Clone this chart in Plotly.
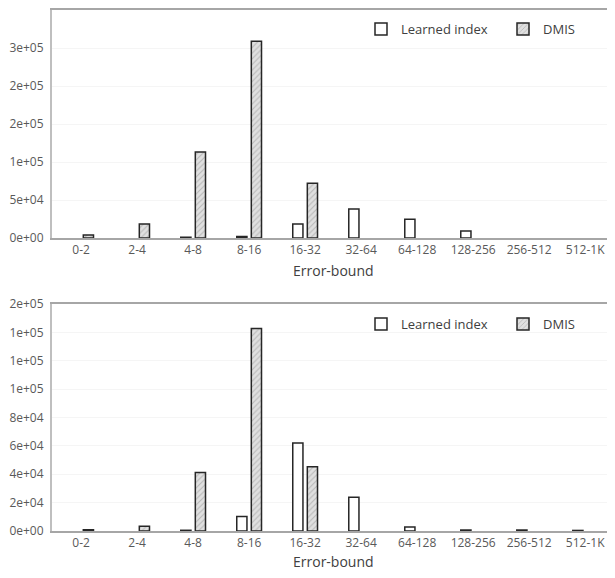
import plotly.graph_objects as go

categories = ["0-2", "2-4", "4-8", "8-16", "16-32", "32-64", "64-128", "128-256", "256-512", "512-1K"]

# Top panel (None = no bar)
top_learned = [None, None, 1000, 2000, 18500, 38000, 24700, 9200, None, None]
top_dmis = [4000, 18500, 113000, 259000, 72000, None, None, None, None, None]
top_tickvals = [0, 50000, 100000, 150000, 200000, 250000, 300000]
top_ticktext = ["0e+00", "5e+04", "1e+05", "2e+05", "2e+05", "3e+05", "3e+05"]

# Bottom panel
bot_learned = [None, None, 500, 10300, 62100, 23800, 2800, 700, 700, 400]
bot_dmis = [900, 3300, 41300, 142700, 45300, None, None, None, None, None]
bot_tickvals = [0, 20000, 40000, 60000, 80000, 100000, 120000, 140000, 160000]
bot_ticktext = ["0e+00", "2e+04", "4e+04", "6e+04", "8e+04", "1e+05", "1e+05", "1e+05", "2e+05"]

x_title = "Error-bound"

FONT = "Open Sans, Noto Sans, sans-serif"
edge = dict(color="#262626", width=1.5)

fig = go.Figure()

def add_pair(xa, ya, learned, dmis, leg_li, leg_dm):
    fig.add_trace(go.Bar(
        x=categories, y=learned, name="Learned index", xaxis=xa, yaxis=ya,
        offsetgroup="li", legend=leg_li, showlegend=True,
        marker=dict(color="white", line=edge),
    ))
    fig.add_trace(go.Bar(
        x=categories, y=dmis, name="DMIS", xaxis=xa, yaxis=ya,
        offsetgroup="dm", legend=leg_dm, showlegend=True,
        marker=dict(color="#d9d9d9", line=edge,
                    pattern=dict(shape="/", fgcolor="#8c8c8c", bgcolor="#e0e0e0",
                                 size=4, solidity=0.25)),
    ))

add_pair("x", "y", top_learned, top_dmis, "legend", "legend2")
add_pair("x2", "y2", bot_learned, bot_dmis, "legend3", "legend4")

# the page body adds an 8px margin on every side; keep the figure inside the window
OFF = 8
W, H = 615 - 2 * OFF, 578 - 2 * OFF
def dom(px_top, px_bot):
    return [(H - (px_bot - OFF)) / H, (H - (px_top - OFF)) / H]
def lx(px):
    return (px - OFF) / W
def ly(px):
    return (H - (px - OFF)) / H

xcommon = dict(
    showline=True, linecolor="#a6a6a6", linewidth=2, mirror=True,
    showgrid=False, ticks="", range=[-0.52, 9.39], tickangle=0,
    tickfont=dict(family=FONT, size=12, color="#595959"),
    domain=[(52 - OFF) / W, 1.0], fixedrange=True, automargin=False,
)
ycommon = dict(
    showline=True, linecolor="#bfbfbf", linewidth=2,
    showgrid=True, gridcolor="#f5f5f5", zeroline=False, ticks="",
    tickfont=dict(family=FONT, size=12, color="#595959"),
    ticklabelstandoff=4, automargin=False,
)

legend_common = dict(
    orientation="h", xanchor="left", yanchor="middle",
    font=dict(family=FONT, size=13, color="#404040"),
    bgcolor="rgba(0,0,0,0)", itemwidth=30,
)

title_font = dict(family=FONT, size=14, color="#404040")
annotations = [
    dict(text=x_title, xref="paper", yref="paper", x=lx(333), y=ly(270),
         xanchor="center", yanchor="middle", showarrow=False, font=title_font),
    dict(text=x_title, xref="paper", yref="paper", x=lx(333), y=ly(561),
         xanchor="center", yanchor="middle", showarrow=False, font=title_font),
]

fig.update_layout(
    width=W, height=H, showlegend=True,
    margin=dict(l=0, r=0, t=0, b=0),
    paper_bgcolor="white", plot_bgcolor="white",
    barmode="group", bargap=0.48, bargroupgap=0.3,
    font=dict(family=FONT),
    xaxis=dict(xcommon, anchor="y"),
    xaxis2=dict(xcommon, anchor="y2"),
    yaxis=dict(ycommon, domain=dom(10, 238), range=[0, 300000],
               tickvals=top_tickvals, ticktext=top_ticktext, anchor="x"),
    yaxis2=dict(ycommon, domain=dom(304, 531), range=[0, 160000],
                tickvals=bot_tickvals, ticktext=bot_ticktext, anchor="x2"),
    legend=dict(legend_common, x=lx(361), y=ly(29)),
    legend2=dict(legend_common, x=lx(503), y=ly(29)),
    legend3=dict(legend_common, x=lx(361), y=ly(324)),
    legend4=dict(legend_common, x=lx(503), y=ly(324)),
    annotations=annotations,
)

fig.write_html("out.html")
